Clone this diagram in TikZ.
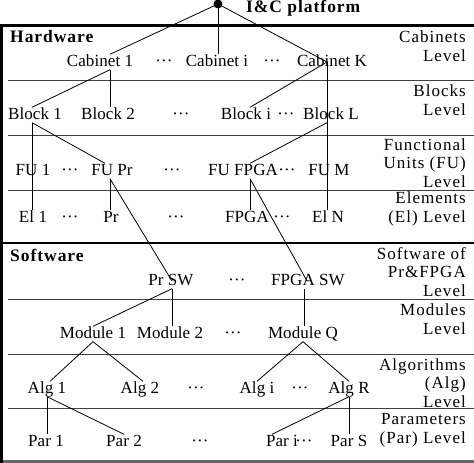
\documentclass[tikz,border=0pt]{standalone}
\usepackage{fontspec}
\setmainfont{Liberation Serif}[LetterSpace=0.5]
\newfontfamily\lvlfont{Liberation Serif}[LetterSpace=6.0]
\newfontfamily\headfont{Liberation Serif}[LetterSpace=5.5]
\usepackage{tikz}
\usetikzlibrary{positioning,calc}
\tikzstyle{line} = [draw,line width=0.8pt]
\tikzstyle{sep} = [draw,line width=0.9pt,black!75]
\tikzstyle{frame} = [draw,line width=3pt]
\tikzstyle{item} = [inner sep=0pt,text height=11.5pt,text depth=3.5pt,font=\fontsize{17}{19}\selectfont]
\tikzstyle{lvl} = [inner sep=0pt,anchor=east,align=right,font=\fontsize{17}{18.5}\selectfont\lvlfont]
\tikzstyle{head} = [inner sep=0pt,anchor=west,font=\fontsize{17.5}{20}\selectfont\headfont\bfseries]
\newcommand{\dd}{···}

\begin{document}
\begin{tikzpicture}[auto,x=1pt,y=-1pt]
    \useasboundingbox (0,0) rectangle (474,463);
    % frame and levels
    \path [frame] (474,25) -- (1.5,25) -- (1.5,461.5) -- (474,461.5);
    \path [frame,draw=black!60] (3,461.5) -- (474,461.5);
    \path [frame,line width=2.5pt] (0,243) -- (474,243);
    \foreach \y in {80,135,190,299,354,408}
        \path [sep] (8,\y) -- (474,\y);

    \node[head] (hw) at (10,37) {Hardware};
    \node[head] (sw) at (10,255) {Software};
    \node[head] (plat) at (246,8) {I\&C platform};
    \node[circle,fill,inner sep=0pt,minimum size=9pt] (top) at (218,4) {};

    % level names
    \node[lvl] (lcab) at (466,46) {Cabinets\\Level};
    \node[lvl] (lblk) at (466,100) {Blocks\\Level};
    \node[lvl] (lfu) at (466,163) {Functional\\Units (FU)\\Level};
    \node[lvl] (lel) at (466,209) {Elements\\(El) Level};
    \node[lvl] (lsw) at (466,272) {Software of\\Pr\&FPGA\\Level};
    \node[lvl] (lmod) at (466,319) {Modules\\Level};
    \node[lvl] (lalg) at (466,383) {Algorithms\\(Alg)\\Level};
    \node[lvl] (lpar) at (466,430) {Parameters\\(Par) Level};

    % hardware
    \node[item] (cab1) at (100,62) {Cabinet 1};
    \node[item] (cabd1) at (164,62) {\dd};
    \node[item] (cabi) at (217,62) {Cabinet i};
    \node[item] (cabd2) at (272,62) {\dd};
    \node[item] (cabK) at (332,62) {Cabinet K};

    \node[item] (blk1) at (35,115) {Block 1};
    \node[item] (blk2) at (108,115) {Block 2};
    \node[item] (blkd1) at (181,115) {\dd};
    \node[item] (blki) at (246,115) {Block i};
    \node[item] (blkd2) at (286,115) {\dd};
    \node[item] (blkL) at (331,115) {Block L};

    \node[item] (fu1) at (33,171) {FU 1};
    \node[item] (fud1) at (70,171) {\dd};
    \node[item] (fuPr) at (112,171) {FU Pr};
    \node[item] (fud2) at (172,171) {\dd};
    \node[item] (fuFPGA) at (243,171) {FU FPGA};
    \node[item] (fud3) at (287,171) {\dd};
    \node[item] (fuM) at (329,171) {FU M};

    \node[item] (el1) at (33,218) {El 1};
    \node[item] (eld1) at (70,218) {\dd};
    \node[item] (pr) at (111,218) {Pr};
    \node[item] (eld2) at (176,218) {\dd};
    \node[item] (fpga) at (247,218) {FPGA};
    \node[item] (eld3) at (282,218) {\dd};
    \node[item] (elN) at (328,218) {El N};

    % software
    \node[item] (prSW) at (171,281) {Pr SW};
    \node[item] (swd) at (237,281) {\dd};
    \node[item] (fpgaSW) at (308,281) {FPGA SW};

    \node[item] (mod1) at (93,334) {Module 1};
    \node[item] (mod2) at (170,334) {Module 2};
    \node[item] (modd) at (233,334) {\dd};
    \node[item] (modQ) at (303,334) {Module Q};

    \node[item] (alg1) at (47,389) {Alg 1};
    \node[item] (alg2) at (140,389) {Alg 2};
    \node[item] (algd1) at (196,389) {\dd};
    \node[item] (algi) at (257,389) {Alg i};
    \node[item] (algd2) at (300,389) {\dd};
    \node[item] (algR) at (349,389) {Alg R};

    \node[item] (par1) at (46,442) {Par 1};
    \node[item] (par2) at (124,442) {Par 2};
    \node[item] (pard1) at (200,442) {\dd};
    \node[item] (pari) at (282,442) {Par i};
    \node[item] (pard2) at (304,442) {\dd};
    \node[item] (parS) at (349,442) {Par S};

    % tree
    \path [line] (top.center) -- ([xshift=10pt]cab1.north);
    \path [line] (top.center) -- ([xshift=1pt]cabi.north);
    \path [line] (top.center) -- ([xshift=-5pt]cabK.center);
    \path [line] ([xshift=10pt]cab1.south) -- ([xshift=-3pt]blk1.north);
    \path [line] ([xshift=10pt]cab1.south) -- ([xshift=2pt]blk2.north);
    \path [line] ([xshift=-5pt]cabK.center) -- ([xshift=4pt]blki.north);
    \path [line] ([xshift=-5pt]cabK.center) -- ([xshift=-4pt]blkL.center);
    \path [line] ([xshift=-3pt]blk1.south) -- ([xshift=-1pt]fu1.center);
    \path [line] ([xshift=-1pt]fu1.center) -- ([xshift=-1pt]el1.north);
    \path [line] ([xshift=-3pt]blk1.south) -- ([xshift=-7pt]fuPr.north);
    \path [line] ([xshift=-4pt]blkL.center) -- ([xshift=-2pt]fuM.center);
    \path [line] ([xshift=-2pt]fuM.center) -- ([xshift=-1pt]elN.north);
    \path [line] ([xshift=-4pt]blkL.south) -- ([xshift=7pt]fuFPGA.north);
    \path [line] ([xshift=-2pt]fuPr.south) -- ([xshift=-1pt]pr.north);
    \path [line] ([xshift=-2pt]fuPr.south) -- ([xshift=1pt]prSW.center);
    \path [line] ([xshift=7pt]fuFPGA.south) -- ([xshift=3pt]fpga.north);
    \path [line] ([xshift=7pt]fuFPGA.south) -- ([xshift=-1pt]fpgaSW.center);
    \path [line] ([xshift=1pt]prSW.south) -- (mod1.north);
    \path [line] ([xshift=1pt]prSW.south) -- ([xshift=2pt]mod2.north);
    \path [line] ([xshift=-4pt]fpgaSW.south) -- ([xshift=1pt]modQ.north);
    \path [line] (mod1.south) -- ([xshift=3pt]alg1.north);
    \path [line] (mod1.south) -- ([xshift=3pt]alg2.north);
    \path [line] (modQ.south) -- (algi.north);
    \path [line] (modQ.south) -- (algR.north);
    \path [line] (alg1.south) -- ([xshift=1pt]par1.north);
    \path [line] (alg1.south) -- (par2.north);
    \path [line] (algR.south) -- ([xshift=-10pt]pari.north);
    \path [line] (algR.south) -- (parS.north);
\end{tikzpicture}
\end{document}
